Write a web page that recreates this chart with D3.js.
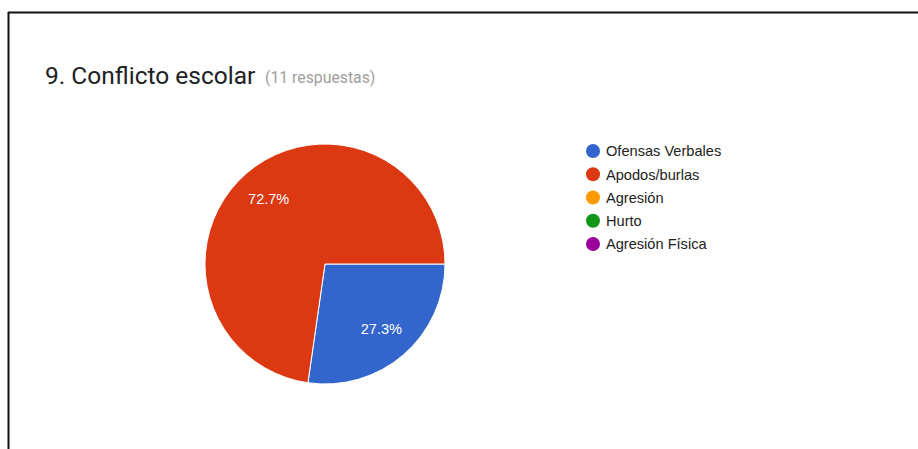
<!DOCTYPE html>
<html>
<head>
<meta charset="utf-8">
<script src="https://cdn.jsdelivr.net/npm/d3@7/dist/d3.min.js"></script>
<style>
  html, body { margin: 0; padding: 0; background: #fff; }
  svg { display: block; }
</style>
</head>
<body>
<svg id="chart" width="918" height="449"></svg>
<script>
const titleText = "9. Conflicto escolar";
const subtitleText = "(11 respuestas)";
const categories = ["Ofensas Verbales", "Apodos/burlas", "Agresión", "Hurto", "Agresión Física"];
const values = [3, 8, 0, 0, 0];
const colors = ["#3366cc", "#dc3912", "#ff9900", "#109618", "#990099"];

const svg = d3.select("#chart");

// frame lines (top and left)
svg.append("line").attr("x1", 8).attr("x2", 918).attr("y1", 12.5).attr("y2", 12.5)
  .attr("stroke", "#111").attr("stroke-width", 2);
svg.append("line").attr("x1", 8.5).attr("x2", 8.5).attr("y1", 12).attr("y2", 449)
  .attr("stroke", "#111").attr("stroke-width", 2);

// title
svg.append("text").attr("x", 45).attr("y", 84)
  .attr("font-family", "Roboto, sans-serif").attr("font-size", 24.5)
  .attr("fill", "#202124").text(titleText);
svg.append("text").attr("x", 265).attr("y", 83)
  .attr("font-family", "Roboto, sans-serif").attr("font-size", 15.8)
  .attr("fill", "#9e9e9e").text(subtitleText);

// pie
const cx = 325, cy = 264, r = 120;
const total = d3.sum(values);
const pie = d3.pie().sort(null).value(d => d)
  .startAngle(Math.PI / 2).endAngle(Math.PI / 2 + 2 * Math.PI);
const arcs = pie(values);
const arc = d3.arc().innerRadius(0).outerRadius(r);
const labelArc = d3.arc().innerRadius(86).outerRadius(86);
const color = d3.scaleOrdinal().domain(categories).range(colors);

const g = svg.append("g").attr("transform", `translate(${cx},${cy})`);
g.selectAll("path").data(arcs.filter(a => a.value > 0)).enter().append("path")
  .attr("d", arc)
  .attr("fill", d => color(categories[d.index]))
  .attr("stroke", "#fff").attr("stroke-width", 1);

g.selectAll("text.lbl").data(arcs.filter(a => a.value > 0)).enter().append("text")
  .attr("class", "lbl")
  .attr("transform", d => `translate(${labelArc.centroid(d)})`)
  .attr("text-anchor", "middle").attr("dy", "0.36em")
  .attr("font-family", "Arial, 'Liberation Sans', sans-serif").attr("font-size", 14.5)
  .attr("fill", "#fff")
  .text(d => d3.format(".1%")(d.value / total));

// legend
const y = d3.scalePoint().domain(categories).range([151, 244]);
const leg = svg.append("g");
const items = leg.selectAll("g").data(categories).enter().append("g")
  .attr("transform", d => `translate(593,${y(d)})`);
items.append("circle").attr("r", 7).attr("fill", d => color(d));
items.append("text").attr("x", 13).attr("dy", "0.36em")
  .attr("font-family", "Arial, 'Liberation Sans', sans-serif").attr("font-size", 14.6)
  .attr("fill", "#222").text(d => d);
</script>
</body>
</html>
